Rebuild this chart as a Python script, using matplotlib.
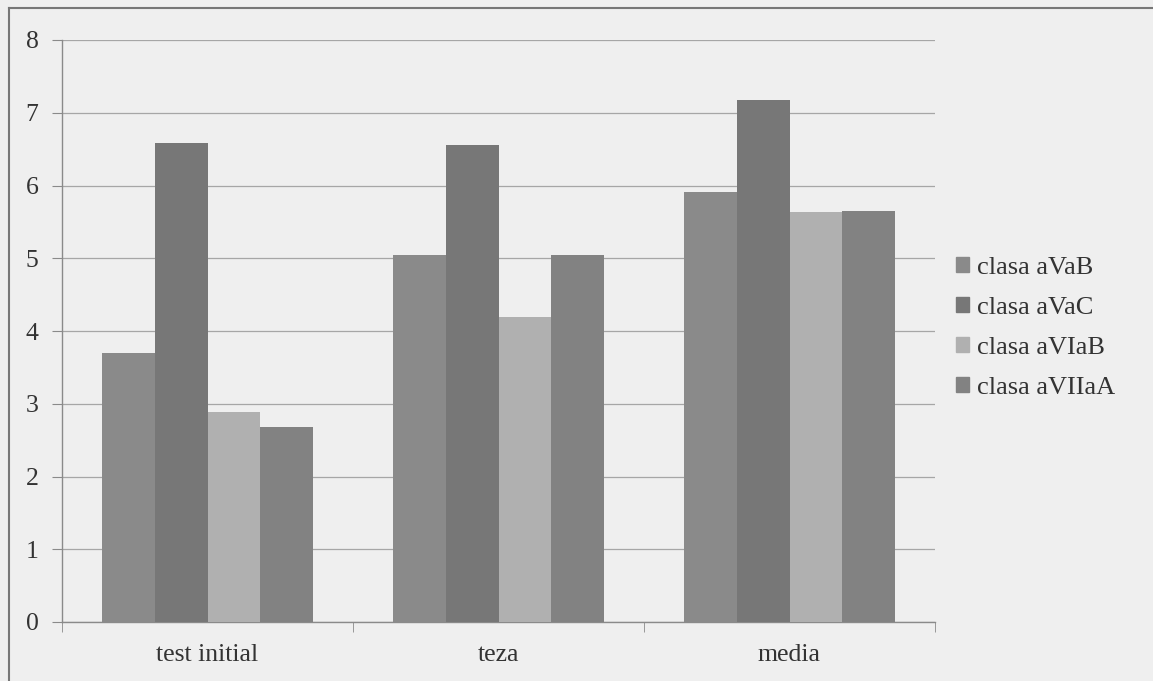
import matplotlib
matplotlib.use("Agg")
import matplotlib.pyplot as plt
import numpy as np
from matplotlib.lines import Line2D

categories = ["test initial", "teza", "media"]
series_names = ["clasa aVaB", "clasa aVaC", "clasa aVIaB", "clasa aVIIaA"]
aVaB = [3.70, 5.04, 5.91]
aVaC = [6.58, 6.56, 7.18]
aVIaB = [2.89, 4.19, 5.64]
aVIIaA = [2.68, 5.04, 5.65]
yticks = [0, 1, 2, 3, 4, 5, 6, 7, 8]

series = [aVaB, aVaC, aVIaB, aVIIaA]
colors = ["#8a8a8a", "#777777", "#b0b0b0", "#828282"]

plt.rcParams['font.family'] = ['Liberation Serif', 'DejaVu Serif']

bg = "#efefef"
fig = plt.figure(figsize=(11.53, 6.81), dpi=100, facecolor=bg)
ax = fig.add_axes([62/1153, 1 - 622/681, (935-62)/1153, (622-40)/681])
ax.set_facecolor(bg)

n = len(series)
bw = 0.182
x = np.arange(len(categories))
for i, (vals, c, name) in enumerate(zip(series, colors, series_names)):
    ax.bar(x + (i - (n - 1) / 2) * bw, vals, width=bw, color=c, label=name,
           zorder=3, linewidth=0)

ax.set_xlim(-0.5, len(categories) - 0.5)
ax.set_ylim(0, 8)
ax.set_yticks(yticks)
ax.set_yticklabels([str(v) for v in yticks], fontsize=18.5, color="#333333")
ax.yaxis.grid(True, color="#a6a6a6", linewidth=0.9, zorder=0)
ax.set_xticks(x)
ax.set_xticklabels(categories, fontsize=18.5, color="#333333")
ax.tick_params(axis='x', length=0, pad=16)
ax.tick_params(axis='y', length=7, color="#8a8a8a", pad=10)
# category boundary ticks
ax.set_xticks(np.arange(len(categories) + 1) - 0.5, minor=True)
ax.tick_params(axis='x', which='minor', length=7, color="#8a8a8a", direction='out')
for s in ["top", "right"]:
    ax.spines[s].set_visible(False)
for s in ["left", "bottom"]:
    ax.spines[s].set_color("#8a8a8a")
    ax.spines[s].set_linewidth(1.0)

handles = [plt.Rectangle((0, 0), 1, 1, color=c) for c in colors]
leg = ax.legend(handles, series_names, loc="center left",
                bbox_to_anchor=(932/1153, 1 - 328/681), bbox_transform=fig.transFigure,
                frameon=False, fontsize=19, handlelength=0.5, handleheight=0.5,
                handletextpad=0.3, labelspacing=0.68, labelcolor="#333333")

# outer border (top and left as in scan)
fig.add_artist(Line2D([9/1153, 1], [1 - 8/681, 1 - 8/681], color="#777777", lw=1.5,
                      transform=fig.transFigure))
fig.add_artist(Line2D([9/1153, 9/1153], [0, 1 - 8/681], color="#777777", lw=1.5,
                      transform=fig.transFigure))

fig.savefig("out.png", dpi=100, facecolor=bg)
